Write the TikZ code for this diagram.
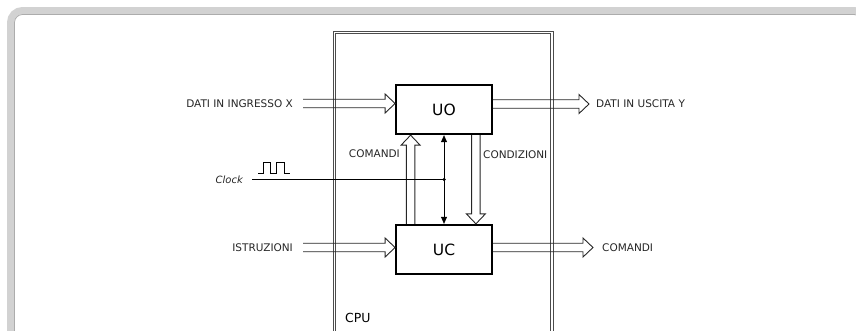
\documentclass[tikz,border=0pt]{standalone}
\usepackage{fontspec}
\setmainfont{DejaVu Sans}
\usetikzlibrary{calc,arrows.meta}

\tikzset{
  lbl/.style={text=black!85, inner ysep=0pt, font=\fontsize{10.5}{12}\selectfont},
  unit/.style={draw, line width=1.8pt, minimum width=96pt, minimum height=49.5pt,
    font=\fontsize{15.5}{18}\selectfont},
  % freccia vuota a doppia linea
  bus/.style={draw=black!85, line width=0.9pt,
    to path={
      ($(\tikztotarget)!10pt!(\tikztostart)$) coordinate (bh)
      ($(\tikztostart)!4.25pt!90:(\tikztotarget)$) -- ($(bh)!4.25pt!-90:(\tikztostart)$)
      -- ($(bh)!9.5pt!-90:(\tikztostart)$) -- (\tikztotarget)
      -- ($(bh)!9.5pt!90:(\tikztostart)$) -- ($(bh)!4.25pt!90:(\tikztostart)$)
      -- ($(\tikztostart)!4.25pt!-90:(\tikztotarget)$)
    }},
  sig/.style={{Triangle[length=7pt,width=6pt]}-{Triangle[length=7pt,width=6pt]}, line width=0.7pt},
  dot/.style={circle, fill, inner sep=0pt, minimum size=3.5pt},
}

\begin{document}
\begin{tikzpicture}[x=1pt, y=-1pt]
    \useasboundingbox (0,0) rectangle (856,330);
    \clip (0,0) rectangle (856,330);

    % cornice
    \draw[gray!35, line width=7pt, rounded corners=12pt] (10.5,10.5) rectangle (866,350);
    \draw[gray!65, line width=0.8pt, rounded corners=8pt] (14.5,14.5) rectangle (862,346);

    % CPU
    \draw[gray!60!black, line width=0.9pt, double, double distance=1.8pt] (334.5,32.5) rectangle (552,345);
    \node[anchor=west, inner sep=0pt, font=\fontsize{12.5}{15}\selectfont] (cpu) at (345,318) {CPU};

    \node[unit] (UO) at (444,109.5) {UO};
    \node[unit] (UC) at (444,249.5) {UC};

    % ingressi e uscite
    \node[lbl, anchor=east, inner xsep=10pt] (inx) at (303,103.5) {DATI IN INGRESSO X};
    \node[lbl, anchor=east, inner xsep=10pt] (ins) at (303,247.5) {ISTRUZIONI};
    \node[lbl, anchor=west, inner xsep=7pt] (outy) at (589,104) {DATI IN USCITA Y};
    \node[lbl, anchor=west, inner xsep=9pt] (outc) at (593,247.5) {COMANDI};

    \draw[bus] (inx.east) to (inx.east -| UO.west);
    \draw[bus] (ins.east) to (ins.east -| UC.west);
    \draw[bus] (outy.west -| UO.east) to (outy.west);
    \draw[bus] (outc.west -| UC.east) to (outc.west);

    % comandi e condizioni
    \draw[bus] ([xshift=15.5pt]UC.north west) to ([xshift=15.5pt]UO.south west);
    \draw[bus] ([xshift=-17pt]UO.south east) to ([xshift=-17pt]UC.north east);
    \node[lbl, anchor=east, inner xsep=2pt] (cmd) at (402,153.5) {COMANDI};
    \node[lbl, anchor=west, inner xsep=2pt] (cnd) at (481,155) {CONDIZIONI};

    % clock
    \draw[sig] (UO.south) -- (UC.north);
    \node[dot] (jn) at (UO.south |- 0,179.5) {};
    \node[lbl, anchor=east, inner xsep=9pt, font=\fontsize{10}{12}\selectfont\itshape] (clk) at (252,179.5) {Clock};
    \draw[line width=0.8pt] (clk.east) -- (jn.center);
    \draw[line width=0.9pt] (258,173) -- (263,173) -- (263,162) -- (270.5,162) -- (270.5,173)
        -- (276.5,173) -- (276.5,162) -- (284,162) -- (284,173) -- (290,173);
\end{tikzpicture}
\end{document}
